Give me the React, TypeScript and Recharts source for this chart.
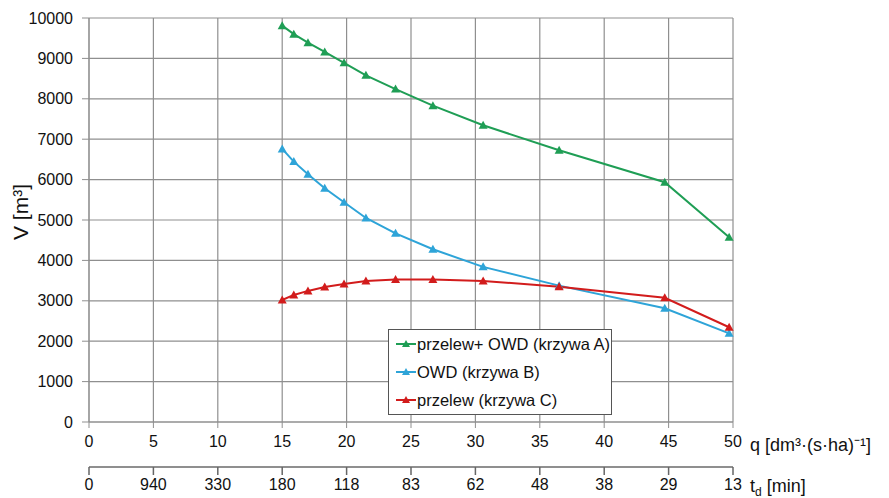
import React from 'react';
import {
  LineChart,
  Line,
  XAxis,
  YAxis,
  CartesianGrid,
} from 'recharts';

// q [dm3/(s*ha)] points shared by all three curves
const qValues = [15, 15.9, 17, 18.3, 19.8, 21.5, 23.8, 26.7, 30.6, 36.5, 44.7, 49.7];
const curveA = [9810, 9600, 9390, 9160, 8890, 8580, 8240, 7830, 7345, 6725, 5935, 4575];
const curveB = [6760, 6445, 6130, 5785, 5440, 5050, 4670, 4275, 3840, 3375, 2815, 2195];
const curveC = [3020, 3145, 3245, 3340, 3415, 3490, 3530, 3530, 3490, 3350, 3075, 2345];

const qTicks = [0, 5, 10, 15, 20, 25, 30, 35, 40, 45, 50];
const tdLabels = ['0', '940', '330', '180', '118', '83', '62', '48', '38', '29', '13'];
const vTicks = [0, 1000, 2000, 3000, 4000, 5000, 6000, 7000, 8000, 9000, 10000];

const seriesNames = ['przelew+ OWD (krzywa A)', 'OWD (krzywa B)', 'przelew (krzywa C)'];
const COLORS = ['#1f9e55', '#2ea4d8', '#d21c1c'];
const FONT = '"Liberation Sans", Arial, sans-serif';
const GRID = '#8f8f8f';

const data = qValues.map((q, i) => ({ q, A: curveA[i], B: curveB[i], C: curveC[i] }));

const Triangle = ({ cx, cy, color }: any) => {
  if (cx == null || cy == null) return null;
  return (
    <path
      d={`M${cx},${cy - 4.5} L${cx + 4.5},${cy + 3.5} L${cx - 4.5},${cy + 3.5} Z`}
      fill={color}
    />
  );
};

const LegendBox = () => (
  <div
    style={{
      position: 'absolute',
      left: 388,
      top: 329,
      width: 224,
      boxSizing: 'border-box',
      border: '1.5px solid #555',
      background: '#fff',
      padding: '0 0 0 6px',
      fontFamily: FONT,
      fontSize: 16.5,
      color: '#111',
      lineHeight: '28px',
      whiteSpace: 'nowrap',
    }}
  >
    {seriesNames.map((name, i) => (
      <div key={name} style={{ display: 'flex', alignItems: 'center' }}>
        <svg width={22} height={12}>
          <line x1={1} y1={6} x2={21} y2={6} stroke={COLORS[i]} strokeWidth={2} />
          <path d="M11,2 L15,9 L7,9 Z" fill={COLORS[i]} />
        </svg>
        {name}
      </div>
    ))}
  </div>
);

const YLabel = () => (
  <text
    x={0}
    y={0}
    transform="translate(28, 212) rotate(-90)"
    textAnchor="middle"
    fontFamily={FONT}
    fontSize={21}
    fill="#111"
  >
    V [m³]
  </text>
);

const QLabel = ({ viewBox }: any) => (
  <text
    x={viewBox.x + viewBox.width + 17}
    y={viewBox.y + 29}
    fontFamily={FONT}
    fontSize={18}
    fill="#111"
  >
    q [dm³·(s·ha)⁻¹]
  </text>
);

const TdLabel = ({ viewBox }: any) => (
  <text
    x={viewBox.x + viewBox.width + 17}
    y={viewBox.y + 25}
    fontFamily={FONT}
    fontSize={18}
    fill="#111"
  >
    t<tspan fontSize={12} dy={4}>d</tspan>
    <tspan dy={-4}> [min]</tspan>
  </text>
);

const tickStyle = { fontFamily: FONT, fontSize: 16, fill: '#111' };

export default function App() {
  return (
    <div style={{ position: 'absolute', left: 0, top: 0, width: 889, height: 498, background: '#fff' }}>
      <LineChart
        width={889}
        height={498}
        data={data}
        margin={{ top: 18, right: 156, bottom: 0, left: 0 }}
      >
        <CartesianGrid stroke={GRID} strokeWidth={1.2} />
        <XAxis
          dataKey="q"
          type="number"
          domain={[0, 50]}
          ticks={qTicks}
          interval={0}
          height={45}
          tickSize={6}
          tickMargin={8}
          tick={tickStyle}
          stroke={GRID}
          label={<QLabel />}
        />
        <XAxis
          xAxisId="td"
          dataKey="q"
          type="number"
          domain={[0, 50]}
          ticks={qTicks}
          interval={0}
          height={31}
          tickSize={8}
          tickMargin={4}
          tick={tickStyle}
          tickFormatter={(v: number) => tdLabels[Math.round(v / 5)]}
          axisLine={{ stroke: GRID, strokeWidth: 2 }}
          tickLine={{ stroke: '#666', strokeWidth: 1.5 }}
          label={<TdLabel />}
        />
        <YAxis
          type="number"
          domain={[0, 10000]}
          ticks={vTicks}
          interval={0}
          width={89}
          tickSize={7}
          tickMargin={9}
          tick={tickStyle}
          stroke={GRID}
          label={<YLabel />}
        />
        {['A', 'B', 'C'].map((key, i) => (
          <Line
            key={key}
            dataKey={key}
            name={seriesNames[i]}
            type="linear"
            stroke={COLORS[i]}
            strokeWidth={2}
            dot={<Triangle color={COLORS[i]} />}
            activeDot={false}
            isAnimationActive={false}
          />
        ))}
      </LineChart>
      <LegendBox />
    </div>
  );
}
